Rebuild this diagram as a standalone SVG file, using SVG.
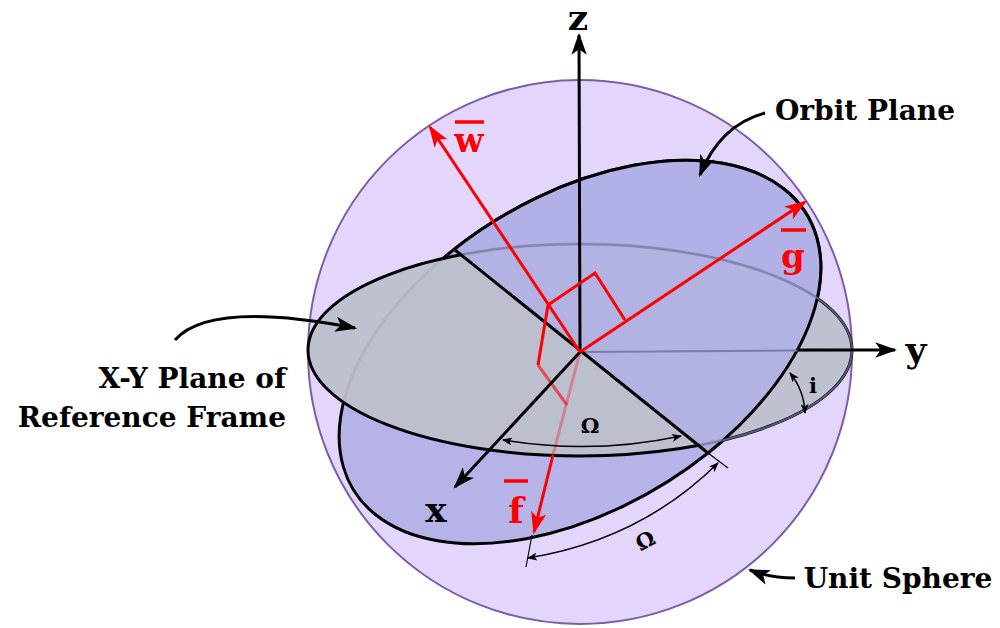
<svg xmlns="http://www.w3.org/2000/svg" width="1000" height="628" viewBox="0 0 1000 628">
<defs>
<marker id="abig" viewBox="0 0 20 14" refX="18" refY="7" markerWidth="22" markerHeight="16" markerUnits="userSpaceOnUse" orient="auto"><path d="M0,0 L20,7 L0,14 L5,7 Z" fill="#000"/></marker>
<marker id="ar" viewBox="0 0 20 14" refX="18" refY="7" markerWidth="22" markerHeight="16" markerUnits="userSpaceOnUse" orient="auto"><path d="M0,0 L20,7 L0,14 L5,7 Z" fill="#f00"/></marker>
<marker id="as" viewBox="0 0 10 8" refX="9" refY="4" markerWidth="10" markerHeight="8" markerUnits="userSpaceOnUse" orient="auto-start-reverse"><path d="M0,0 L10,4 L0,8 L2.5,4 Z" fill="#000"/></marker>
<clipPath id="front"><polygon points="300,126 900,608 1000,608 1000,0 300,0"/></clipPath>
</defs>
<style>
.lbl{font-family:"DejaVu Serif","Liberation Serif",serif;font-weight:bold;fill:#000}
.red{font-family:"DejaVu Serif","Liberation Serif",serif;font-weight:bold;fill:#f00}
.k{stroke:#000;fill:none}
.r{stroke:#f00;fill:none;stroke-width:3}
.orb{vector-effect:non-scaling-stroke}
</style>
<g id="sphere"><circle cx="580" cy="352" r="272" fill="#e3d5fb" stroke="#7b5ea7" stroke-width="2"/></g>
<g id="orbit-back"><circle class="orb" cx="0" cy="0" r="1" transform="matrix(128 101 204 -163 580 352)" fill="#b5b3e8" stroke="#000" stroke-width="3"/></g>
<g id="xy-plane"><ellipse cx="580" cy="350" rx="272" ry="106" fill="#bcc0cc" fill-opacity="0.95" stroke="#000" stroke-width="3"/></g>
<g id="hidden">
<path class="r" d="M580,352 L553,455" stroke-opacity="0.3"/>
<path class="r" d="M538,365 L567,405" stroke-opacity="0.6"/>
</g>
<g id="orbit-front" clip-path="url(#front)"><circle class="orb" cx="0" cy="0" r="1" transform="matrix(128 101 204 -163 580 352)" fill="#b0b0e6" fill-opacity="0.85" stroke="#000" stroke-width="3"/>
<ellipse cx="580" cy="350" rx="272" ry="106" fill="none" stroke="#7c7ca8" stroke-width="2" stroke-opacity="0.7"/>
<line x1="580" y1="352" x2="852" y2="350" stroke="#7c7ca8" stroke-width="2"/></g>
<g id="connectors">
<line class="k" x1="455" y1="250" x2="708" y2="453" stroke-width="3"/>
<line class="k" x1="580" y1="352" x2="579" y2="35" stroke-width="3" marker-end="url(#abig)"/>
<line class="k" x1="797" y1="350" x2="895" y2="350" stroke-width="3" marker-end="url(#abig)"/>
<line class="k" x1="580" y1="352" x2="455" y2="487" stroke-width="3" marker-end="url(#abig)"/>
<line class="r" x1="580" y1="352" x2="430" y2="127" marker-end="url(#ar)"/>
<line class="r" x1="580" y1="352" x2="805" y2="202" marker-end="url(#ar)"/>
<line class="r" x1="553" y1="455" x2="534" y2="532" marker-end="url(#ar)"/>
<path class="r" d="M548,305 L595,273 L625,320"/>
<path class="r" d="M548,305 L538,365"/>
<path class="k" stroke-width="1.5" d="M503,440 Q592,455 681,436" marker-start="url(#as)" marker-end="url(#as)"/>
<line class="k" x1="708" y1="453" x2="728" y2="468" stroke-width="1.2"/>
<line class="k" x1="532" y1="535" x2="526" y2="567" stroke-width="1.2"/>
<path class="k" stroke-width="1.5" d="M528,558 Q640,540 718,463" marker-start="url(#as)" marker-end="url(#as)"/>
<path class="k" stroke-width="1.5" d="M790,373 Q804,390 805,413" marker-start="url(#as)" marker-end="url(#as)"/>
<path class="k" stroke-width="3" d="M765,113 Q720,125 700,175" marker-end="url(#abig)"/>
<path class="k" stroke-width="3" d="M175,340 Q210,300 355,328" marker-end="url(#abig)"/>
<path class="k" stroke-width="3" d="M795,578 Q770,578 750,570" marker-end="url(#abig)"/>
</g>
<g id="labels">
<text class="lbl" x="578" y="30" font-size="36" text-anchor="middle">z</text>
<text class="lbl" x="916" y="362" font-size="36" text-anchor="middle">y</text>
<text class="lbl" x="436" y="522" font-size="36" text-anchor="middle">x</text>
<text class="lbl" x="590" y="433" font-size="21" text-anchor="middle">Ω</text>
<text class="lbl" x="645" y="548" font-size="21" text-anchor="middle" transform="rotate(-28 645 540)">Ω</text>
<text class="lbl" x="813" y="393" font-size="21" text-anchor="middle">i</text>
<text class="red" x="469" y="152" font-size="34" text-anchor="middle">w</text>
<line x1="455" y1="122" x2="484" y2="122" stroke="#f00" stroke-width="3.5"/>
<text class="red" x="793" y="268" font-size="34" text-anchor="middle">g</text>
<line x1="781" y1="230" x2="806" y2="230" stroke="#f00" stroke-width="3.5"/>
<text class="red" x="516" y="523" font-size="36" text-anchor="middle">f</text>
<line x1="504" y1="481" x2="528" y2="481" stroke="#f00" stroke-width="3.5"/>
<text class="lbl" x="865" y="120" font-size="28" text-anchor="middle">Orbit Plane</text>
<text class="lbl" x="286" y="388" font-size="28" text-anchor="end">X-Y Plane of</text>
<text class="lbl" x="286" y="427" font-size="28" text-anchor="end">Reference Frame</text>
<text class="lbl" x="898" y="588" font-size="28" text-anchor="middle">Unit Sphere</text>
</g>
</svg>
